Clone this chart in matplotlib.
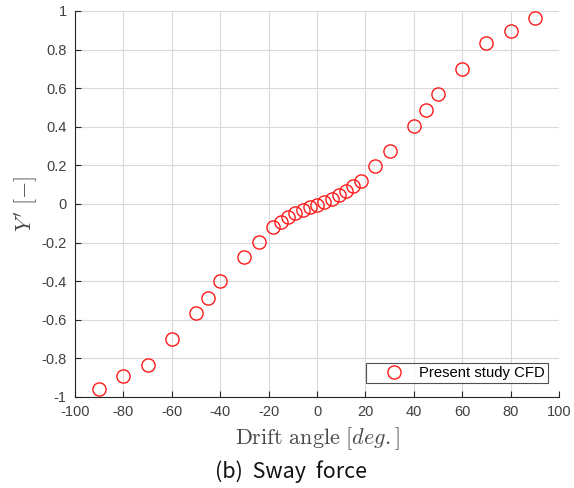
import matplotlib
matplotlib.use("Agg")
import matplotlib.pyplot as plt

plt.rcParams['font.family'] = ['Liberation Sans', 'DejaVu Sans']
plt.rcParams['mathtext.fontset'] = 'cm'
plt.rcParams['axes.unicode_minus'] = False

# CFD sway force coefficient vs drift angle
drift = [-90, -80, -70, -60, -50, -45, -40, -30, -24,
         -18, -15, -12, -9, -6, -3, 0, 3, 6, 9, 12, 15, 18,
         24, 30, 40, 45, 50, 60, 70, 80, 90]
sway = [-0.960, -0.893, -0.833, -0.700, -0.566, -0.487, -0.401, -0.276, -0.195,
        -0.121, -0.093, -0.069, -0.047, -0.029, -0.016, -0.005, 0.012, 0.026,
        0.048, 0.069, 0.094, 0.120,
        0.198, 0.276, 0.402, 0.489, 0.568, 0.701, 0.834, 0.895, 0.962]

xticks = list(range(-100, 101, 20))
yticks = [-1, -0.8, -0.6, -0.4, -0.2, 0, 0.2, 0.4, 0.6, 0.8, 1]
ytick_labels = ['-1', '-0.8', '-0.6', '-0.4', '-0.2', '0', '0.2', '0.4', '0.6', '0.8', '1']

fig = plt.figure(figsize=(5.74, 4.88), dpi=100)
ax = fig.add_axes([0.1307, 0.1865, 0.8432, 0.791])

ax.plot(drift, sway, linestyle='none', marker='o', markersize=9.5,
        markerfacecolor='none', markeredgecolor='#ff1a1a', markeredgewidth=1.0,
        label='Present study CFD')

ax.set_xlim(-100, 100)
ax.set_ylim(-1, 1)
ax.set_xticks(xticks)
ax.set_yticks(yticks)
ax.set_yticklabels(ytick_labels)
ax.grid(True, color='#d9d9d9', linewidth=0.8)
ax.set_axisbelow(True)

for s in ['top', 'right']:
    ax.spines[s].set_visible(False)
for s in ['left', 'bottom']:
    ax.spines[s].set_color('#262626')
    ax.spines[s].set_linewidth(0.8)
ax.tick_params(direction='in', length=4, width=0.8, colors='#262626',
               labelsize=10.5, labelcolor='#404040')
ax.tick_params(axis='x', pad=6)
ax.tick_params(axis='y', pad=6)

ax.set_xlabel(r"$\mathrm{Drift\ angle}\ [deg.]$", fontsize=16, color='#4a4a4a', labelpad=4)
ax.set_ylabel(r"$Y'\ [-]$", fontsize=16, color='#4a4a4a', labelpad=1)

leg = ax.legend(loc='lower right', bbox_to_anchor=(0.977, 0.036), fontsize=10.7,
                frameon=True, fancybox=False, borderpad=0.2, handlelength=3.3,
                handletextpad=0.05, borderaxespad=0)
leg.get_frame().set_edgecolor('#262626')
leg.get_frame().set_linewidth(0.8)

fig.text(0.507, 0.033, '(b)  Sway  force', ha='center', va='center',
         fontsize=15.5, family=['Noto Sans CJK KR', 'DejaVu Sans'], color='#111111')

fig.savefig('out.png', dpi=100)
